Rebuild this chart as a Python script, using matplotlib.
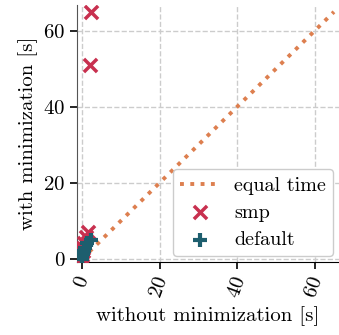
import matplotlib
matplotlib.use("Agg")
import matplotlib.pyplot as plt

plt.rcParams['font.family'] = 'cmr10'
plt.rcParams['mathtext.fontset'] = 'cm'
plt.rcParams['axes.formatter.use_mathtext'] = True
plt.rcParams['font.size'] = 15

# ------------------------------------------------------------------------------
smp_without = [2.2, 2.0, 1.6, 1.0, 0.6, 0.3, 0.2, 0.1, 0.0]
smp_with = [65.0, 51.0, 7.2, 5.8, 4.2, 3.0, 2.0, 1.0, 0.3]
default_without = [2.2, 1.4, 0.9, 0.5, 0.3, 0.1, 0.0]
default_with = [5.0, 4.2, 3.0, 2.0, 1.2, 0.5, 0.1]
equal_line = [0, 65]

fig = plt.figure(figsize=(3.39, 3.35), dpi=100)
ax = fig.add_axes([0.227, 0.218, 0.773, 0.767])

ax.grid(True, color="#cccccc", linestyle="--", linewidth=1)
ax.set_axisbelow(True)
ax.plot(equal_line, equal_line, color="#dd7f4f", linestyle=":", linewidth=2.8,
        label="equal time", zorder=2)
ax.scatter(smp_without, smp_with, marker="x", color="#c8304f", s=90,
           linewidths=2.5, label="smp", zorder=3)
ax.scatter(default_without, default_with, marker="+", color="#1d5e6e", s=90,
           linewidths=3, label="default", zorder=4)

ax.set_xlim(-1.3, 66.3)
ax.set_ylim(-0.8, 66.8)
ax.set_xticks([0, 20, 40, 60])
ax.set_yticks([0, 20, 40, 60])
for lab in ax.get_xticklabels():
    lab.set_rotation(70)
ax.spines["top"].set_visible(False)
ax.spines["right"].set_visible(False)
ax.spines["left"].set_color("#555555")
ax.tick_params(length=5, width=1.2)
ax.set_xlabel("without minimization [s]")
ax.set_ylabel("with minimization [s]")
ax.legend(loc="lower right", framealpha=1, edgecolor="#cccccc",
          fontsize=14.5, handlelength=2.0, borderaxespad=0.3,
          handletextpad=0.7, labelspacing=0.45, borderpad=0.35)

fig.savefig("out.png", dpi=100)
